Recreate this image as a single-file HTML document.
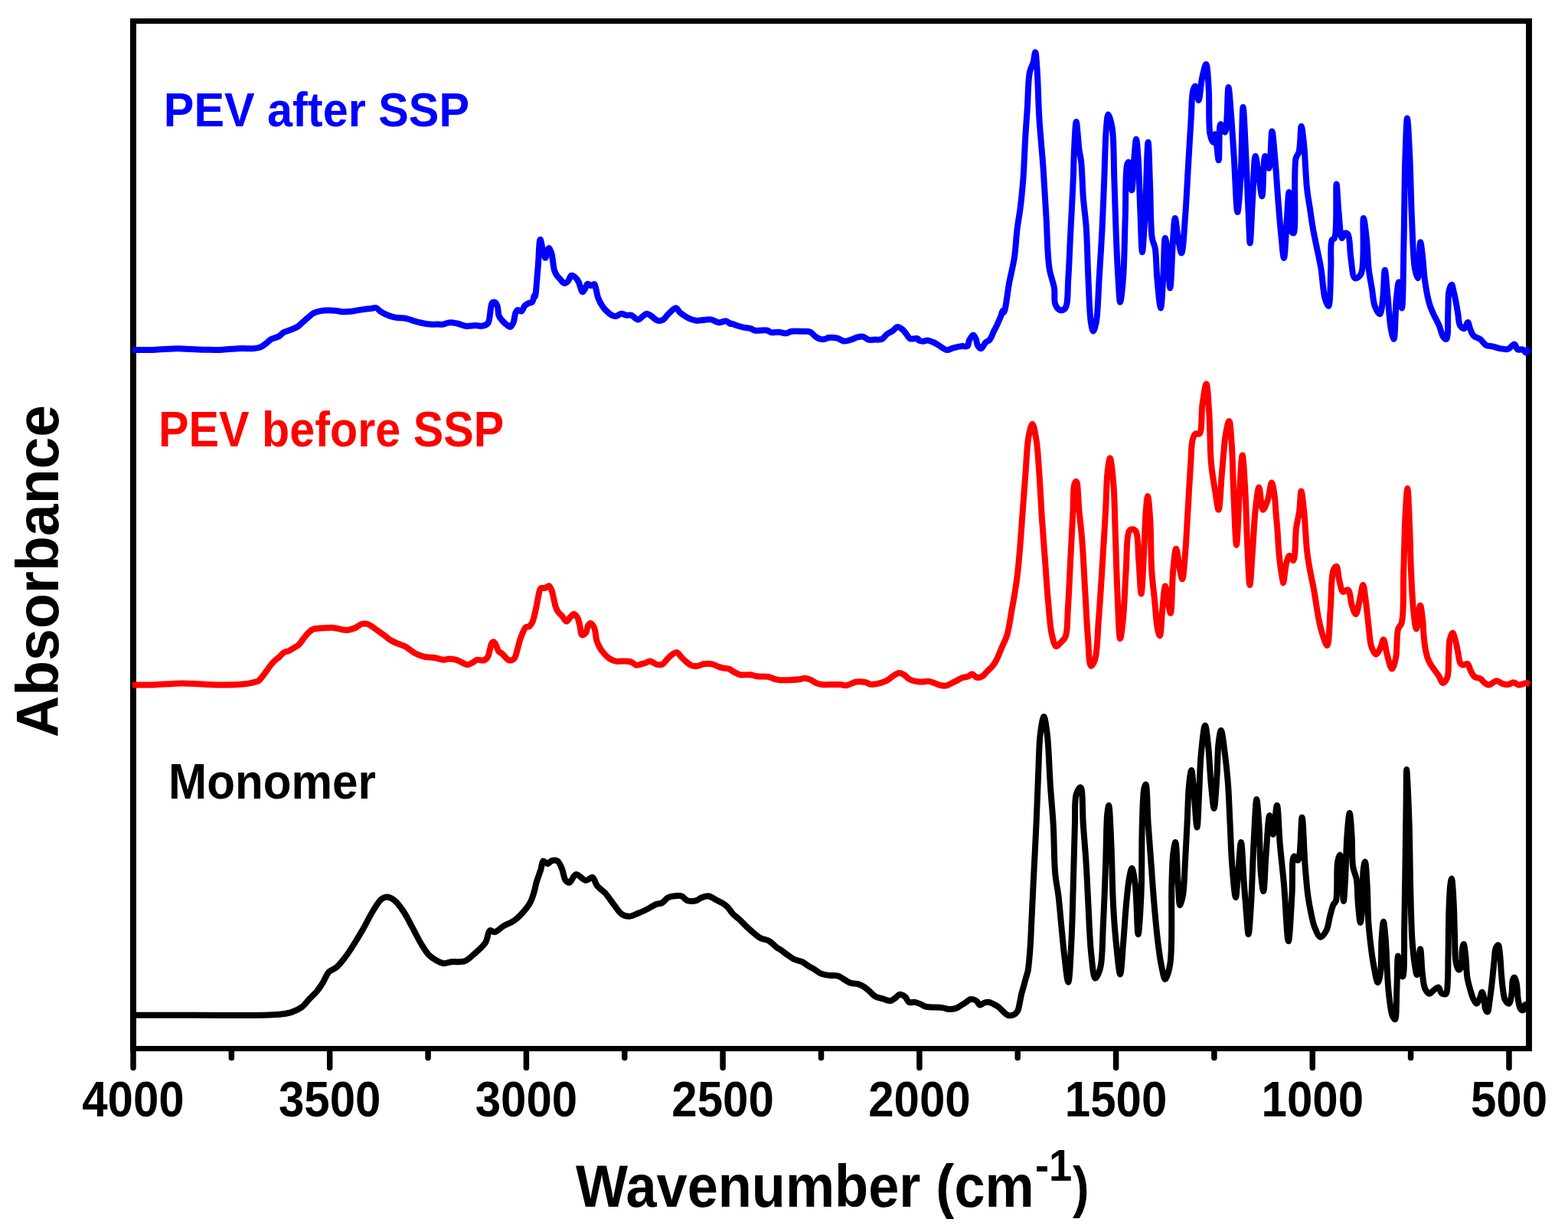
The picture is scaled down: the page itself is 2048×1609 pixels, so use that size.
<!DOCTYPE html>
<html><head><meta charset="utf-8"><style>
html,body{margin:0;padding:0;background:#fff;overflow:hidden;}
svg{display:block;}
text{font-family:"Liberation Sans",Arial,sans-serif;font-weight:bold;}
</style></head><body>
<svg width="2048" height="1609" viewBox="0 0 2048 1609">
<rect width="2048" height="1609" fill="#fff"/>
<g stroke="#000" fill="none" stroke-linecap="butt">
<line x1="174" y1="24" x2="174" y2="1373" stroke-width="8"/>
<line x1="1997" y1="24" x2="1997" y2="1373" stroke-width="8"/>
<line x1="170" y1="27.5" x2="2001" y2="27.5" stroke-width="7"/>
<line x1="170" y1="1369.5" x2="2001" y2="1369.5" stroke-width="7"/>
</g>

<g fill="none" stroke-width="8" stroke-linejoin="round" stroke-linecap="butt">
<path stroke="#0000ff" d="M173.0 456.9 C182.0 456.9 190.6 457.1 200.0 456.9 C210.2 456.6 222.9 455.4 232.0 455.3 C238.9 455.3 243.7 455.8 250.0 456.0 C257.0 456.3 264.9 456.7 272.0 456.8 C278.6 456.9 284.2 457.0 291.0 456.7 C298.8 456.4 308.9 455.1 316.0 454.9 C321.3 454.8 325.7 455.6 330.0 455.3 C333.6 455.0 337.1 454.6 340.0 453.4 C342.7 452.4 344.7 450.7 347.0 449.0 C349.6 447.2 351.8 444.3 354.7 442.7 C357.6 441.1 361.7 440.9 364.4 439.3 C366.7 438.0 367.7 435.8 370.0 434.4 C372.7 432.8 376.6 432.1 379.8 430.7 C383.1 429.3 386.8 427.9 389.5 426.1 C391.8 424.5 393.4 422.6 395.4 420.8 C397.6 418.9 399.9 416.8 402.2 414.9 C404.5 413.0 406.4 410.6 409.0 409.2 C411.8 407.6 415.5 406.7 418.8 406.1 C422.0 405.5 425.3 405.3 428.6 405.3 C431.9 405.3 435.1 405.5 438.4 405.8 C441.6 406.1 444.9 407.0 448.1 407.2 C451.4 407.4 454.6 407.1 457.9 406.8 C461.2 406.5 464.4 405.6 467.7 405.1 C470.9 404.6 474.3 404.1 477.4 403.7 C480.1 403.4 482.8 403.2 485.2 402.9 C487.3 402.6 489.2 401.5 491.1 402.0 C493.2 402.6 494.7 405.3 497.0 406.8 C499.8 408.6 503.4 410.4 506.7 411.7 C509.9 413.0 512.9 413.9 516.5 414.6 C520.8 415.5 526.8 415.2 531.1 416.1 C534.7 416.9 537.3 418.3 540.9 419.3 C545.3 420.5 550.7 422.0 555.5 422.7 C560.1 423.4 567.4 423.7 569.2 423.6 C569.6 423.6 569.6 423.5 570.0 423.5 C571.3 423.4 575.1 424.0 577.8 423.7 C580.9 423.4 584.3 421.4 587.6 421.2 C590.8 421.0 593.9 421.8 597.3 422.5 C601.0 423.3 605.1 425.5 609.0 425.9 C612.9 426.3 617.1 425.1 620.8 425.1 C624.2 425.1 627.6 426.3 630.5 425.7 C633.1 425.1 635.7 424.3 637.4 422.0 C639.9 418.5 639.8 409.3 640.8 404.4 C641.5 401.0 641.4 397.0 642.8 395.6 C643.7 394.7 645.2 394.4 646.2 394.8 C647.5 395.3 648.8 397.4 649.6 399.5 C650.9 402.6 650.3 409.0 651.5 412.2 C652.4 414.5 653.5 415.8 655.0 417.6 C657.0 420.0 660.5 423.3 662.8 424.9 C664.2 425.9 665.5 427.2 666.7 426.9 C668.2 426.5 669.5 423.5 670.6 421.0 C672.0 417.7 672.1 411.1 673.5 408.3 C674.3 406.7 675.2 405.3 676.4 404.9 C677.7 404.5 679.9 406.9 681.3 406.4 C683.0 405.7 683.6 401.3 685.2 399.5 C686.6 398.0 688.4 396.9 690.1 396.1 C691.7 395.3 693.8 395.8 695.0 394.6 C696.7 393.0 697.2 385.9 697.9 385.9 C698.2 385.9 698.4 387.7 698.7 387.7 C699.9 387.5 701.3 363.2 702.5 350.8 C703.7 338.2 704.1 312.8 705.7 312.7 C706.7 312.6 708.2 324.8 709.5 329.2 C710.4 332.3 711.5 336.8 712.3 336.8 C713.2 336.8 713.6 330.2 714.6 327.9 C715.3 326.2 716.3 323.9 717.1 323.9 C718.2 324.0 719.5 327.9 720.3 330.5 C721.3 333.7 721.6 338.1 722.2 341.9 C722.8 345.7 723.1 350.1 724.1 353.3 C724.9 355.8 726.0 357.8 727.3 359.7 C728.6 361.6 730.2 363.0 731.7 364.7 C733.3 366.4 735.0 369.5 736.8 369.8 C738.4 370.1 740.4 368.7 741.9 367.3 C743.7 365.6 744.4 360.2 746.3 359.7 C747.9 359.2 750.5 361.3 752.1 362.8 C753.7 364.3 754.7 366.2 755.9 368.6 C757.6 371.9 759.1 381.0 760.9 381.2 C762.1 381.4 763.6 378.0 764.7 376.2 C765.7 374.5 766.0 371.3 767.3 370.8 C768.6 370.3 770.8 373.0 772.4 373.0 C773.8 373.0 775.3 370.7 776.2 371.1 C777.3 371.5 777.5 374.1 778.1 376.2 C779.1 379.5 779.8 385.0 781.2 388.9 C782.5 392.5 784.4 396.1 786.3 399.0 C787.9 401.5 789.4 403.4 791.4 405.4 C793.6 407.6 796.6 410.5 799.0 411.7 C800.8 412.6 802.3 413.1 804.1 413.0 C806.4 412.8 809.3 409.9 811.7 409.8 C813.9 409.7 816.0 411.4 818.1 411.7 C820.2 412.0 822.2 411.1 824.4 411.7 C827.2 412.5 830.6 417.5 833.3 417.4 C835.6 417.4 837.6 414.3 839.6 413.0 C841.4 411.8 842.9 409.9 844.7 409.8 C846.7 409.7 848.9 411.7 851.1 413.0 C853.6 414.5 856.0 418.1 858.7 418.7 C861.1 419.3 864.1 418.6 866.3 417.4 C868.8 416.0 870.2 412.7 872.7 410.4 C875.6 407.7 880.1 402.0 882.8 402.2 C884.9 402.4 886.1 406.3 887.9 407.9 C889.5 409.4 891.1 410.4 893.0 411.7 C895.2 413.2 897.9 415.0 900.6 416.2 C903.4 417.4 905.9 418.3 909.5 418.7 C914.6 419.2 923.2 416.6 928.5 417.4 C932.5 418.0 935.3 420.9 938.7 421.2 C942.0 421.5 946.1 418.7 948.8 419.3 C950.9 419.8 952.8 423.0 953.9 423.1 C954.4 423.2 954.5 422.6 955.0 422.6 C956.4 422.5 960.0 424.4 962.6 425.2 C965.4 426.1 968.5 427.1 971.5 427.7 C974.4 428.3 977.9 428.2 980.4 429.0 C982.4 429.6 983.2 431.0 985.5 431.5 C989.4 432.4 998.1 430.6 1002.0 431.5 C1004.3 432.0 1005.0 433.6 1007.1 434.1 C1009.8 434.7 1013.8 433.6 1017.2 433.8 C1020.6 434.0 1024.4 435.6 1027.4 435.3 C1029.8 435.0 1031.2 433.3 1033.8 432.8 C1037.7 432.1 1044.6 432.7 1049.0 432.8 C1052.4 432.9 1055.2 432.3 1057.9 433.4 C1060.7 434.5 1063.0 438.2 1065.5 439.8 C1067.6 441.2 1069.7 442.4 1071.9 442.9 C1074.0 443.3 1076.4 443.1 1078.2 442.7 C1079.7 442.4 1080.3 441.3 1082.0 441.0 C1084.8 440.5 1090.0 440.9 1093.5 441.7 C1096.7 442.5 1099.1 445.2 1102.3 445.5 C1105.8 445.8 1110.6 443.9 1113.8 442.9 C1116.2 442.1 1117.9 440.9 1120.1 440.4 C1122.5 439.8 1125.4 439.3 1127.7 439.8 C1130.0 440.3 1131.7 442.9 1134.1 443.6 C1136.7 444.3 1140.0 443.7 1143.0 443.6 C1146.0 443.5 1149.4 444.1 1151.9 442.9 C1154.4 441.7 1155.9 438.4 1158.2 436.6 C1160.5 434.8 1163.5 433.7 1165.9 432.1 C1168.2 430.6 1170.0 427.3 1172.2 427.1 C1174.3 426.9 1176.7 428.8 1178.6 430.2 C1180.5 431.7 1181.9 434.0 1183.6 436.0 C1185.3 438.0 1186.4 441.2 1188.7 442.3 C1191.3 443.5 1197.3 441.3 1198.9 442.3 C1199.7 442.8 1199.3 443.9 1200.0 444.4 C1201.2 445.3 1204.3 445.7 1206.3 445.7 C1208.1 445.7 1209.5 444.3 1211.4 444.4 C1213.7 444.5 1216.5 445.9 1219.0 447.0 C1221.6 448.2 1224.0 449.8 1226.7 451.4 C1229.8 453.2 1233.6 456.8 1236.8 457.1 C1239.5 457.4 1241.5 455.4 1244.4 454.6 C1248.1 453.6 1253.6 452.4 1257.1 452.1 C1259.6 451.9 1262.0 453.2 1263.5 452.1 C1265.2 450.9 1264.8 446.8 1266.0 444.4 C1267.3 441.9 1269.5 437.5 1271.1 437.5 C1272.5 437.5 1274.0 441.1 1274.9 443.2 C1275.9 445.5 1275.6 448.7 1276.8 450.8 C1277.8 452.6 1279.7 455.3 1281.2 455.2 C1283.2 455.1 1285.5 448.9 1287.6 447.0 C1289.1 445.7 1290.8 445.6 1292.0 444.4 C1293.3 443.1 1294.3 441.2 1295.2 439.4 C1296.2 437.4 1296.8 435.0 1297.8 433.0 C1298.7 431.0 1299.9 429.3 1300.9 427.3 C1302.0 425.1 1303.1 422.7 1304.1 420.3 C1305.2 417.8 1306.3 415.2 1307.3 412.7 C1308.2 410.3 1309.0 405.8 1309.8 405.7 C1310.3 405.6 1310.8 407.9 1311.3 407.8 C1313.3 407.3 1315.9 380.9 1318.3 368.5 C1320.4 357.4 1323.1 348.1 1324.8 337.0 C1326.7 324.7 1327.2 309.7 1328.7 298.0 C1329.9 288.4 1331.4 281.5 1332.6 271.9 C1334.1 260.2 1335.4 246.7 1336.5 232.7 C1337.7 216.6 1338.2 196.6 1339.2 180.5 C1340.0 166.5 1340.9 155.0 1341.8 141.4 C1342.8 126.5 1342.7 105.1 1344.9 94.4 C1346.1 88.6 1348.4 85.7 1349.6 81.3 C1350.8 77.0 1351.4 68.3 1352.2 68.3 C1353.3 68.4 1354.1 83.9 1354.8 94.4 C1355.9 110.3 1356.1 134.0 1357.4 154.4 C1358.7 175.7 1361.1 197.9 1362.6 219.7 C1364.1 241.5 1365.3 263.3 1366.6 285.0 C1367.9 306.7 1367.9 333.2 1370.5 350.0 C1372.1 360.8 1375.7 368.0 1377.0 376.3 C1378.1 383.6 1376.3 392.1 1378.3 397.2 C1379.7 400.7 1382.4 404.4 1384.8 405.0 C1386.8 405.5 1389.7 404.7 1391.4 402.4 C1395.4 397.1 1394.3 377.2 1395.3 363.2 C1396.5 347.1 1396.9 330.2 1397.9 311.0 C1399.1 287.5 1400.9 254.3 1401.8 232.7 C1402.4 217.4 1402.4 206.2 1403.1 193.6 C1403.7 181.7 1404.6 159.0 1405.7 159.0 C1406.8 159.0 1408.3 186.3 1409.6 196.0 C1410.5 202.4 1411.5 205.1 1412.2 211.8 C1413.5 223.3 1413.7 243.9 1414.9 258.8 C1416.0 272.5 1417.8 283.3 1418.8 298.0 C1420.1 317.0 1420.4 342.2 1421.4 363.2 C1422.4 383.0 1422.9 408.8 1424.8 420.7 C1425.7 426.1 1426.7 432.4 1427.9 432.4 C1429.1 432.4 1430.7 426.2 1431.8 420.7 C1434.1 408.9 1434.4 383.0 1435.7 363.2 C1437.0 342.2 1438.5 319.7 1439.6 298.0 C1440.7 276.2 1441.4 254.5 1442.3 232.7 C1443.2 211.0 1443.5 182.4 1444.9 167.5 C1445.6 159.6 1446.2 149.6 1447.5 149.5 C1448.8 149.4 1451.4 159.5 1452.7 167.5 C1455.1 182.4 1454.5 210.0 1455.3 232.7 C1456.2 257.6 1456.9 287.5 1457.9 311.0 C1458.7 330.2 1459.5 348.0 1460.5 363.2 C1461.3 375.0 1462.0 394.6 1463.1 394.6 C1464.2 394.6 1466.0 376.0 1467.0 363.2 C1468.6 343.0 1468.8 310.4 1469.7 285.0 C1470.6 260.9 1469.5 221.9 1472.3 214.4 C1472.9 212.8 1473.8 211.6 1474.4 211.8 C1476.5 212.4 1477.2 248.4 1478.3 248.4 C1479.5 248.4 1480.3 218.7 1481.4 206.6 C1482.2 197.3 1483.1 181.8 1484.0 181.8 C1484.9 181.8 1485.9 196.4 1486.6 206.6 C1487.8 223.2 1488.3 250.8 1489.2 271.9 C1490.1 291.7 1490.8 329.3 1491.9 329.3 C1492.9 329.3 1494.2 302.7 1495.3 285.0 C1496.9 258.5 1498.3 185.7 1499.6 185.7 C1500.6 185.7 1501.4 225.4 1502.2 245.8 C1503.1 267.1 1502.6 297.7 1504.8 311.0 C1505.8 317.1 1507.7 318.4 1508.7 324.0 C1510.4 333.4 1510.1 350.0 1511.3 363.0 C1512.5 376.1 1514.7 402.4 1516.0 402.4 C1517.3 402.4 1518.3 377.1 1519.2 363.0 C1520.3 346.9 1520.4 311.1 1521.8 311.0 C1522.5 310.9 1523.6 318.2 1524.4 324.0 C1526.0 335.6 1527.1 376.3 1528.3 376.3 C1529.7 376.3 1530.9 327.8 1532.2 311.0 C1533.0 300.4 1533.7 285.0 1534.8 285.0 C1535.9 285.0 1537.2 303.0 1538.7 311.0 C1540.0 318.0 1541.9 330.7 1543.2 330.6 C1545.2 330.5 1546.6 301.6 1547.9 285.0 C1549.5 265.2 1550.5 241.5 1551.8 219.7 C1553.1 197.9 1554.5 173.0 1555.7 154.4 C1556.6 140.5 1556.3 124.5 1558.3 117.9 C1559.1 115.2 1560.5 112.5 1561.4 112.6 C1563.1 112.9 1564.3 131.0 1565.6 131.0 C1567.2 130.9 1568.1 110.6 1570.0 102.2 C1571.5 95.4 1573.9 83.9 1575.3 84.0 C1577.1 84.2 1577.9 103.2 1578.7 115.3 C1579.9 132.1 1578.2 163.6 1580.5 175.3 C1581.5 180.3 1583.3 185.8 1584.4 185.7 C1585.5 185.6 1586.1 175.3 1587.0 175.3 C1588.6 175.4 1590.5 209.2 1591.7 209.2 C1593.1 209.1 1591.5 162.8 1594.3 162.2 C1595.7 161.9 1598.5 173.0 1600.0 172.7 C1603.4 172.0 1603.0 114.0 1604.5 114.0 C1605.6 114.0 1606.8 136.0 1607.9 149.2 C1609.3 166.0 1610.5 186.5 1611.8 206.6 C1613.3 228.9 1614.7 277.0 1616.3 277.0 C1617.6 277.0 1619.3 250.2 1620.4 232.7 C1622.0 207.5 1622.3 140.0 1623.6 140.0 C1624.7 140.0 1626.3 183.5 1627.5 206.6 C1628.8 231.7 1629.9 264.5 1630.9 285.0 C1631.6 298.2 1632.0 317.6 1632.7 317.6 C1633.6 317.6 1634.9 278.1 1636.1 258.8 C1637.2 240.2 1637.9 204.1 1639.7 204.0 C1641.0 203.9 1642.9 223.6 1644.4 232.7 C1645.8 240.9 1647.3 256.3 1648.4 256.2 C1650.1 256.1 1649.9 204.3 1652.3 204.0 C1653.7 203.8 1656.1 219.9 1657.5 219.7 C1659.9 219.4 1660.0 171.4 1661.4 171.4 C1662.6 171.4 1664.1 193.7 1665.3 206.6 C1666.8 222.3 1667.8 241.9 1669.2 258.8 C1670.5 274.9 1671.7 291.7 1673.2 305.8 C1674.4 317.3 1675.8 337.0 1677.0 337.0 C1678.5 337.0 1679.7 300.5 1680.9 285.0 C1681.8 272.5 1682.7 251.0 1683.5 251.0 C1684.5 251.0 1683.2 293.5 1686.1 300.6 C1687.0 302.9 1688.5 304.8 1689.5 304.5 C1693.7 303.0 1689.0 220.8 1692.6 206.6 C1693.7 202.4 1695.5 202.4 1696.5 198.8 C1698.6 191.6 1698.5 164.9 1699.7 164.9 C1700.7 164.9 1702.1 178.8 1703.1 188.3 C1704.7 203.2 1705.3 230.4 1707.0 245.8 C1708.1 256.2 1709.6 263.2 1710.9 271.9 C1712.2 280.6 1713.3 289.3 1714.8 298.0 C1716.3 306.7 1718.3 315.3 1720.0 324.0 C1721.8 332.7 1723.7 340.6 1725.3 350.2 C1727.3 361.9 1728.0 380.5 1730.5 389.3 C1731.8 394.0 1734.0 400.0 1735.2 399.8 C1737.7 399.3 1737.6 365.5 1738.3 350.2 C1738.9 337.1 1737.0 318.6 1739.6 313.6 C1740.5 311.9 1742.0 312.8 1743.0 311.0 C1746.9 303.5 1744.4 240.6 1745.6 240.6 C1746.5 240.6 1747.4 267.4 1748.7 279.7 C1749.8 290.7 1750.5 310.5 1752.7 311.0 C1753.8 311.2 1755.0 305.1 1756.6 304.5 C1757.8 304.1 1759.4 304.5 1760.5 305.8 C1763.5 309.4 1762.8 327.2 1764.4 337.1 C1765.9 346.2 1766.2 361.8 1769.6 363.2 C1771.6 364.1 1775.5 361.6 1777.5 358.0 C1783.2 348.0 1779.1 285.1 1780.9 285.0 C1782.0 284.9 1783.7 301.3 1784.8 311.0 C1786.2 323.3 1786.5 340.9 1787.9 352.8 C1789.0 361.8 1790.5 368.5 1791.8 376.3 C1793.1 384.1 1793.4 393.7 1795.7 399.8 C1797.4 404.2 1800.6 410.5 1802.3 410.2 C1804.5 409.8 1805.2 397.3 1806.2 389.3 C1807.5 378.9 1807.7 352.8 1808.8 352.8 C1809.9 352.8 1811.4 376.9 1812.7 389.3 C1814.0 402.1 1814.8 418.7 1816.6 428.5 C1817.7 434.5 1819.4 442.9 1820.5 442.8 C1822.5 442.6 1822.4 403.0 1823.9 389.3 C1824.8 380.7 1826.0 368.5 1827.0 368.5 C1828.3 368.5 1830.0 402.4 1831.0 402.4 C1832.7 402.3 1832.9 342.5 1833.6 311.0 C1834.4 277.4 1834.4 235.4 1835.4 206.6 C1836.1 186.2 1837.0 154.4 1838.0 154.4 C1839.0 154.4 1840.5 187.4 1841.4 206.6 C1842.6 230.1 1842.8 260.1 1844.0 285.0 C1845.1 307.7 1845.5 336.9 1847.9 350.2 C1849.0 356.3 1850.8 363.3 1851.9 363.2 C1853.9 363.0 1853.8 316.3 1855.2 316.2 C1856.2 316.2 1857.6 331.3 1858.5 338.9 C1859.4 346.6 1859.6 354.9 1860.5 362.1 C1861.3 368.4 1862.1 374.0 1863.2 379.9 C1864.3 385.9 1865.6 392.2 1867.3 397.7 C1868.8 402.6 1870.8 406.8 1872.8 411.3 C1874.9 415.9 1877.6 420.3 1879.6 425.0 C1881.7 429.8 1882.9 437.1 1885.1 440.0 C1886.3 441.6 1888.1 443.3 1889.2 442.8 C1892.1 441.4 1890.7 418.3 1891.3 407.2 C1891.8 397.5 1891.1 386.3 1892.6 379.9 C1893.4 376.3 1895.1 371.6 1896.1 371.7 C1897.2 371.8 1897.9 377.9 1898.8 381.3 C1899.8 385.1 1900.6 389.2 1901.5 393.6 C1902.5 398.7 1903.4 404.7 1904.3 410.0 C1905.2 415.1 1905.0 421.8 1907.0 425.0 C1908.3 427.2 1910.9 429.4 1912.5 429.1 C1914.4 428.7 1915.9 420.8 1917.2 420.9 C1918.4 421.0 1918.8 426.3 1920.0 429.1 C1921.3 432.2 1922.5 436.4 1924.8 438.7 C1926.9 440.8 1930.4 440.9 1933.0 442.8 C1935.9 444.9 1938.2 449.4 1941.2 451.0 C1943.7 452.3 1946.6 451.8 1949.4 452.4 C1952.5 453.1 1955.7 454.5 1959.0 455.1 C1962.5 455.7 1966.7 456.8 1969.9 455.8 C1973.0 454.9 1976.0 449.2 1978.1 449.6 C1980.0 450.0 1980.3 455.4 1982.2 456.5 C1984.0 457.5 1987.1 455.7 1989.0 456.5 C1990.7 457.2 1991.7 460.5 1993.1 460.5 C1994.7 460.4 1996.4 456.8 1998.0 455.0"/>
<path stroke="#ff0000" d="M173.0 894.5 C181.8 894.5 189.7 894.7 199.3 894.5 C211.0 894.2 224.6 892.6 238.4 892.5 C253.8 892.4 272.5 894.5 287.2 894.5 C299.2 894.5 311.6 894.3 320.0 893.3 C325.2 892.7 329.4 891.7 332.7 890.8 C334.8 890.2 336.1 890.1 337.8 888.9 C340.3 887.1 343.0 883.0 345.4 880.0 C347.7 877.1 349.5 873.9 351.7 871.1 C353.8 868.4 355.9 865.7 358.1 863.5 C360.1 861.5 362.3 860.2 364.4 858.4 C366.6 856.5 368.5 853.5 370.8 852.1 C372.8 850.9 375.0 851.0 377.1 850.1 C379.3 849.1 381.4 847.6 383.5 846.3 C385.6 845.0 387.8 844.2 389.8 842.5 C392.1 840.4 394.1 837.0 396.2 834.3 C398.3 831.7 400.3 828.9 402.5 826.7 C404.5 824.8 406.2 822.9 408.9 821.8 C412.3 820.4 417.4 820.7 421.6 820.3 C425.8 820.0 430.1 819.4 434.3 819.7 C438.6 820.0 443.5 821.7 447.0 822.2 C449.5 822.6 451.0 823.1 453.3 822.9 C456.3 822.7 460.3 821.6 463.5 820.3 C466.6 819.0 469.3 815.8 472.3 815.0 C474.9 814.3 477.3 814.2 480.0 815.0 C483.6 816.0 487.9 819.8 491.4 822.2 C494.6 824.3 497.3 826.4 500.3 828.6 C503.6 831.0 506.7 834.0 510.4 836.2 C514.3 838.5 519.6 840.4 523.1 841.9 C525.6 842.9 527.1 843.1 529.5 844.4 C533.1 846.3 537.8 851.0 542.2 853.3 C546.3 855.4 550.6 856.9 554.9 857.8 C559.1 858.7 563.4 858.3 567.6 859.0 C571.8 859.6 576.6 861.7 580.0 861.7 C582.5 861.7 584.0 860.5 586.3 860.4 C589.0 860.3 592.5 861.0 595.2 861.7 C597.6 862.3 599.3 863.3 601.6 864.3 C604.3 865.4 607.6 868.1 610.5 868.1 C613.1 868.1 615.9 866.1 618.1 864.9 C620.0 863.9 621.2 862.2 623.2 861.7 C625.7 861.1 629.7 863.2 632.1 862.4 C634.2 861.7 635.9 859.9 637.1 857.9 C638.6 855.6 638.8 852.0 639.7 849.0 C640.5 846.0 641.0 841.9 642.2 840.1 C642.9 839.1 643.9 838.1 644.7 838.2 C645.8 838.4 646.9 840.9 647.9 842.7 C649.1 844.8 649.6 848.3 651.1 850.3 C652.4 852.0 654.3 852.5 656.2 854.1 C658.8 856.3 662.2 861.7 665.1 862.4 C667.2 862.9 669.8 861.9 671.4 860.4 C673.5 858.4 674.0 854.0 675.2 850.3 C676.6 846.0 677.6 840.6 679.0 836.3 C680.2 832.6 681.4 829.2 682.8 826.2 C684.0 823.6 684.9 820.5 686.6 819.2 C688.0 818.1 690.3 818.9 691.7 817.9 C693.3 816.7 694.5 814.4 695.5 812.2 C696.7 809.6 697.3 806.5 698.1 803.3 C699.0 799.7 699.8 795.8 700.6 791.9 C701.5 787.8 702.1 783.2 703.1 779.2 C704.0 775.4 704.3 770.1 706.3 768.4 C707.7 767.2 710.2 768.3 712.0 767.8 C713.8 767.3 715.7 764.8 717.1 765.2 C718.5 765.6 719.4 768.1 720.3 770.3 C721.7 773.5 722.5 779.0 723.5 783.0 C724.4 786.6 724.9 790.3 726.0 793.2 C726.9 795.6 727.8 797.6 729.2 799.5 C730.6 801.4 732.5 802.7 734.2 804.6 C736.1 806.7 738.1 811.6 740.0 811.6 C741.7 811.6 743.3 807.6 745.0 805.9 C746.5 804.4 748.0 802.1 749.5 802.1 C751.0 802.1 752.7 804.1 753.9 805.9 C755.5 808.3 756.1 812.4 757.1 816.0 C758.2 820.1 758.3 828.5 760.3 829.3 C761.6 829.8 764.2 827.8 765.4 826.2 C766.9 824.2 766.7 819.4 767.9 817.3 C768.8 815.8 769.9 814.1 771.1 814.1 C772.6 814.1 774.8 817.2 776.1 819.8 C778.0 823.7 777.9 831.7 779.3 836.3 C780.4 839.8 781.5 842.3 783.1 845.2 C784.8 848.3 787.2 851.6 789.5 854.1 C791.5 856.3 793.4 858.2 795.8 859.8 C798.4 861.5 801.8 863.0 804.7 863.6 C807.3 864.1 809.5 863.5 812.3 863.6 C815.7 863.7 820.5 863.3 823.8 864.3 C826.7 865.2 828.8 868.3 831.4 868.7 C833.9 869.0 836.9 867.3 839.0 866.8 C840.4 866.5 841.3 866.4 842.7 866.0 C844.5 865.4 846.7 863.4 849.0 863.5 C851.7 863.6 855.0 867.3 857.9 867.9 C860.5 868.4 863.3 868.4 865.5 867.3 C868.0 866.1 869.7 862.5 871.9 860.3 C874.0 858.3 876.0 856.0 878.2 854.6 C880.1 853.4 882.2 851.8 884.0 852.1 C886.1 852.5 887.8 855.9 889.7 857.8 C891.7 859.8 893.7 862.2 896.0 864.1 C898.3 866.0 900.9 868.3 903.6 869.2 C906.0 870.0 908.7 870.1 911.2 869.8 C913.8 869.5 916.0 867.8 918.9 867.3 C922.3 866.8 926.9 866.6 930.3 867.3 C933.2 867.9 935.5 869.6 937.9 870.5 C940.1 871.3 942.1 871.9 944.3 872.4 C946.7 872.9 949.4 872.7 951.9 873.6 C954.5 874.5 956.9 876.8 959.5 878.1 C962.0 879.4 964.2 880.7 967.1 881.3 C970.7 882.0 976.0 880.9 979.8 881.3 C983.0 881.6 985.3 882.8 988.7 883.2 C993.1 883.7 1000.0 883.0 1003.9 883.8 C1006.5 884.4 1008.0 885.6 1010.3 886.3 C1013.0 887.1 1016.2 887.9 1019.2 888.2 C1022.1 888.5 1024.6 888.3 1028.0 888.2 C1032.9 888.0 1041.7 887.7 1045.8 887.0 C1048.0 886.6 1049.0 885.7 1050.9 885.7 C1053.2 885.7 1056.0 886.6 1058.5 887.6 C1061.1 888.7 1063.5 891.0 1066.1 892.1 C1068.6 893.1 1070.8 893.6 1073.8 894.0 C1078.0 894.5 1084.6 894.0 1089.0 894.0 C1092.3 894.0 1095.0 893.9 1097.8 894.1 C1100.4 894.3 1102.6 895.6 1105.4 895.3 C1109.1 894.9 1113.8 891.2 1118.1 890.5 C1122.3 889.8 1127.3 890.3 1130.8 891.1 C1133.4 891.7 1134.7 893.4 1137.2 893.7 C1140.4 894.1 1145.0 893.3 1148.6 892.4 C1152.1 891.6 1155.8 890.3 1158.8 888.6 C1161.6 887.0 1163.8 884.5 1166.4 882.9 C1168.9 881.4 1171.6 879.3 1174.1 879.1 C1176.3 878.9 1178.3 879.9 1180.4 881.0 C1183.0 882.4 1185.0 885.7 1188.1 887.3 C1191.6 889.1 1196.5 890.1 1200.8 890.5 C1205.0 890.9 1210.0 889.5 1213.5 889.9 C1216.0 890.2 1217.7 891.1 1219.8 891.8 C1221.9 892.5 1223.9 893.7 1226.2 894.3 C1228.9 895.0 1232.1 896.0 1235.1 895.6 C1238.4 895.1 1241.7 892.8 1245.3 891.1 C1249.3 889.2 1254.4 886.0 1258.0 884.8 C1260.4 884.0 1262.4 884.3 1264.3 883.5 C1266.2 882.8 1267.6 880.3 1269.4 880.3 C1271.4 880.4 1273.5 884.4 1275.8 884.8 C1278.1 885.2 1281.1 884.2 1283.4 882.9 C1285.8 881.5 1287.6 878.6 1289.7 876.5 C1291.8 874.4 1294.2 872.5 1296.1 870.2 C1298.0 867.9 1299.5 865.7 1301.2 862.5 C1303.8 857.6 1306.9 849.2 1309.4 843.4 C1311.5 838.5 1313.5 835.5 1315.2 829.8 C1317.8 821.1 1319.6 807.5 1321.7 795.8 C1323.9 783.5 1326.3 770.4 1328.0 757.6 C1329.7 744.9 1330.7 733.1 1331.9 719.4 C1333.3 703.6 1334.4 685.4 1335.7 668.4 C1337.0 651.4 1338.2 633.9 1339.5 617.4 C1340.7 601.7 1341.2 583.2 1343.3 571.5 C1344.7 564.1 1346.8 553.7 1348.4 553.7 C1350.2 553.7 1352.1 566.0 1353.5 574.1 C1355.5 585.8 1356.1 601.6 1357.3 617.4 C1358.7 636.6 1359.8 661.1 1361.2 681.1 C1362.4 699.0 1363.7 715.1 1365.0 732.1 C1366.3 749.1 1367.3 766.5 1368.8 783.0 C1370.3 798.7 1371.3 817.8 1373.9 828.9 C1375.4 835.5 1377.1 843.6 1379.5 844.2 C1381.2 844.6 1383.5 841.1 1385.4 839.1 C1387.6 836.9 1390.1 835.3 1391.7 831.5 C1394.7 824.2 1393.9 809.4 1394.8 795.8 C1396.1 777.6 1397.0 753.3 1398.1 732.1 C1399.2 710.9 1400.5 686.6 1401.4 668.4 C1402.1 654.8 1401.3 638.4 1403.2 632.7 C1403.9 630.6 1405.0 628.7 1405.8 628.9 C1408.0 629.5 1408.3 655.3 1409.6 668.4 C1410.9 681.2 1412.3 692.2 1413.4 706.6 C1414.9 725.1 1415.9 749.1 1417.2 770.3 C1418.5 791.5 1419.5 815.8 1421.0 834.0 C1422.2 847.6 1422.2 869.0 1424.9 869.7 C1426.2 870.0 1428.6 866.0 1430.0 862.1 C1433.4 852.5 1433.4 828.0 1435.0 808.6 C1436.9 785.4 1438.6 756.4 1440.2 732.1 C1441.6 709.9 1442.9 688.5 1444.0 668.4 C1445.0 650.5 1445.1 630.3 1446.5 617.4 C1447.4 609.5 1448.7 598.3 1449.8 598.3 C1451.2 598.3 1453.1 617.7 1454.2 630.2 C1455.8 647.8 1455.9 671.7 1456.7 693.9 C1457.6 718.2 1458.2 746.0 1459.3 770.3 C1460.3 792.5 1461.4 833.9 1463.1 834.0 C1464.2 834.0 1465.8 819.0 1466.9 808.6 C1468.6 792.2 1469.3 764.9 1470.7 744.8 C1471.9 726.9 1471.1 700.0 1474.6 693.9 C1475.7 692.1 1477.0 691.4 1478.4 691.3 C1479.9 691.2 1482.1 691.9 1483.5 693.9 C1487.0 699.1 1486.1 719.0 1487.3 732.1 C1488.5 746.1 1489.5 775.4 1490.6 775.4 C1491.8 775.4 1493.2 737.6 1494.2 719.4 C1495.2 702.0 1495.5 681.6 1496.6 668.4 C1497.3 660.1 1498.3 648.0 1499.1 648.0 C1500.2 648.0 1501.6 668.3 1502.4 681.1 C1503.5 698.9 1503.0 726.3 1504.2 744.8 C1505.1 759.2 1506.7 770.3 1508.0 783.0 C1509.3 795.8 1510.1 813.1 1511.9 821.3 C1512.8 825.4 1514.0 830.3 1514.9 830.2 C1516.5 830.0 1517.0 806.9 1518.2 795.8 C1519.4 785.3 1520.6 765.2 1522.0 765.2 C1523.2 765.2 1524.6 781.7 1525.9 788.2 C1526.9 793.1 1528.1 801.0 1528.9 800.9 C1530.7 800.7 1530.7 760.3 1532.2 744.8 C1533.3 733.8 1534.6 716.8 1536.1 716.8 C1537.6 716.8 1539.6 737.5 1541.2 744.8 C1542.2 749.5 1543.3 756.4 1544.2 756.3 C1545.8 756.2 1547.2 732.7 1548.3 719.4 C1549.6 703.8 1550.3 686.3 1551.4 668.4 C1552.6 648.3 1554.0 622.1 1555.2 604.7 C1556.1 592.6 1555.8 580.8 1557.7 574.1 C1558.7 570.6 1559.7 567.6 1561.5 566.5 C1562.9 565.6 1565.2 567.7 1566.6 566.5 C1570.4 563.1 1568.8 539.8 1570.5 528.2 C1571.9 518.5 1574.2 501.4 1575.6 501.5 C1577.3 501.6 1578.4 526.3 1579.4 541.0 C1580.7 559.7 1580.3 586.6 1581.9 604.7 C1583.1 618.3 1585.2 629.5 1587.0 640.4 C1588.5 649.6 1590.3 665.9 1591.6 665.8 C1593.4 665.7 1594.5 633.7 1596.0 617.4 C1597.6 600.6 1598.8 578.8 1601.0 566.5 C1602.3 559.4 1604.2 549.8 1605.4 549.9 C1607.0 550.0 1607.8 567.5 1608.7 579.2 C1610.0 596.3 1610.2 621.3 1611.2 642.9 C1612.3 665.4 1613.7 711.7 1615.0 711.7 C1616.3 711.7 1617.5 663.8 1618.9 642.9 C1620.1 625.3 1621.4 594.5 1622.7 594.5 C1624.0 594.5 1625.5 625.6 1626.5 642.9 C1627.7 662.7 1628.0 685.9 1629.0 706.6 C1630.0 726.2 1631.1 764.0 1632.4 764.0 C1633.5 764.0 1634.8 735.1 1636.0 719.4 C1637.3 701.8 1638.2 678.6 1640.0 663.3 C1641.2 652.7 1642.9 636.5 1644.4 636.5 C1646.0 636.5 1647.0 665.4 1649.5 665.8 C1651.2 666.0 1654.0 658.1 1655.8 653.1 C1658.1 646.7 1659.4 630.2 1661.0 630.2 C1662.4 630.2 1663.9 641.8 1664.8 648.0 C1665.8 654.5 1665.8 661.2 1666.4 668.4 C1667.1 676.4 1668.0 685.4 1668.6 693.9 C1669.2 702.4 1669.5 711.4 1670.2 719.4 C1670.8 726.6 1671.5 732.9 1672.4 739.7 C1673.3 746.5 1675.2 757.4 1675.8 760.1 C1676.0 760.8 1676.0 761.4 1676.2 761.4 C1676.9 761.3 1678.5 741.1 1680.4 734.6 C1681.5 730.7 1682.6 725.9 1684.2 725.7 C1685.6 725.5 1687.9 732.5 1689.3 732.1 C1692.4 731.2 1691.5 700.5 1693.1 688.8 C1694.2 680.7 1696.0 675.7 1697.0 668.4 C1698.2 660.1 1698.5 641.6 1699.5 641.6 C1700.6 641.6 1702.2 658.0 1703.3 668.4 C1704.8 682.7 1705.5 705.4 1707.1 719.4 C1708.2 729.4 1709.5 736.3 1711.0 744.8 C1712.5 753.3 1714.4 760.9 1716.1 770.3 C1718.2 781.8 1720.2 797.9 1722.4 808.6 C1724.0 816.5 1725.5 822.9 1727.5 829.0 C1729.2 834.2 1731.9 843.2 1733.4 843.0 C1736.1 842.6 1736.4 811.8 1737.7 795.8 C1739.1 779.1 1738.4 752.8 1741.5 744.8 C1742.6 741.9 1744.5 739.4 1745.6 739.7 C1747.5 740.2 1747.7 751.9 1749.2 757.6 C1750.6 762.9 1751.7 771.7 1754.3 772.9 C1756.0 773.7 1759.0 769.4 1760.7 770.3 C1763.7 771.8 1763.8 784.9 1765.8 790.7 C1767.3 795.2 1769.4 802.3 1770.9 802.2 C1772.8 802.0 1774.4 789.4 1776.0 783.0 C1777.6 776.7 1779.0 764.0 1780.3 764.0 C1781.6 764.0 1782.6 775.8 1783.6 783.0 C1785.0 792.5 1786.1 805.6 1787.4 816.2 C1788.6 825.9 1788.9 837.3 1791.2 844.2 C1792.7 848.6 1795.1 854.3 1797.1 854.4 C1798.9 854.5 1801.1 849.7 1802.7 846.8 C1804.5 843.5 1805.7 835.2 1807.0 835.3 C1808.7 835.4 1809.8 848.1 1811.6 854.4 C1813.4 860.8 1816.0 873.5 1818.0 873.5 C1819.8 873.5 1821.8 865.4 1823.1 859.5 C1825.2 850.0 1823.8 829.0 1826.2 821.3 C1827.4 817.6 1829.5 817.7 1830.7 813.6 C1834.0 802.3 1832.5 768.3 1833.3 744.8 C1834.2 720.0 1834.6 688.1 1835.8 668.4 C1836.5 655.9 1837.6 637.8 1838.4 637.8 C1839.3 637.8 1840.2 665.3 1840.9 681.1 C1841.8 700.3 1842.1 724.8 1843.0 744.8 C1843.8 762.7 1844.5 781.7 1846.0 795.8 C1847.1 805.8 1848.5 821.3 1849.9 821.3 C1851.5 821.3 1853.5 790.7 1855.0 790.7 C1856.2 790.7 1857.5 804.3 1858.3 811.0 C1859.0 817.5 1859.0 824.0 1859.6 830.5 C1860.3 837.0 1860.9 844.3 1862.2 850.1 C1863.2 854.9 1864.3 859.1 1866.1 863.1 C1867.8 866.9 1870.4 870.3 1872.6 873.6 C1874.7 876.8 1877.2 879.6 1879.2 882.7 C1881.1 885.7 1882.5 891.7 1884.4 891.9 C1886.2 892.1 1888.8 888.6 1890.2 885.3 C1892.7 879.3 1891.6 865.4 1892.2 856.6 C1892.7 849.1 1892.2 841.2 1893.5 835.7 C1894.4 832.0 1896.2 826.6 1897.4 826.6 C1898.4 826.6 1899.1 830.4 1900.0 833.1 C1901.4 837.4 1902.8 844.5 1904.0 850.1 C1905.2 855.4 1905.4 862.9 1907.2 865.8 C1908.1 867.3 1909.1 868.1 1910.5 868.4 C1912.2 868.8 1915.3 866.2 1917.0 867.1 C1919.0 868.2 1919.4 873.3 1920.9 876.2 C1922.4 879.0 1923.8 882.3 1926.1 884.0 C1928.2 885.6 1931.8 885.2 1934.0 886.6 C1936.1 887.9 1937.3 890.6 1939.2 891.9 C1940.8 893.1 1942.4 894.5 1944.4 894.5 C1947.3 894.5 1951.7 889.2 1954.9 889.2 C1957.7 889.2 1960.0 892.4 1962.7 893.2 C1965.2 893.9 1968.1 894.2 1970.5 893.8 C1972.8 893.4 1974.8 891.1 1977.0 891.2 C1979.2 891.3 1981.1 894.2 1983.6 894.5 C1986.6 894.8 1991.4 891.6 1994.0 891.9 C1995.7 892.1 1996.7 893.2 1998.0 893.8"/>
<path stroke="#000000" d="M173.0 1325.8 C198.0 1325.8 221.3 1325.8 248.0 1325.8 C278.4 1325.8 325.7 1326.3 345.8 1325.8 C354.8 1325.6 359.2 1325.5 365.3 1324.8 C370.8 1324.1 376.1 1323.6 381.0 1321.9 C385.8 1320.3 390.7 1318.0 394.6 1315.0 C398.4 1312.1 401.1 1307.8 404.4 1304.3 C407.6 1300.9 411.1 1298.0 414.0 1294.5 C417.0 1290.9 419.4 1286.9 422.0 1282.8 C424.7 1278.5 426.5 1272.4 429.8 1269.1 C432.6 1266.3 436.3 1266.0 439.5 1263.3 C443.5 1259.9 447.5 1254.6 451.3 1249.6 C455.4 1244.2 459.2 1238.1 463.0 1232.0 C467.0 1225.7 470.9 1219.2 474.7 1212.5 C478.7 1205.5 482.3 1197.6 486.4 1191.0 C490.1 1185.0 494.1 1177.5 498.1 1174.4 C500.7 1172.4 503.3 1171.3 506.0 1171.5 C509.1 1171.7 512.6 1173.9 515.7 1176.4 C519.8 1179.7 523.9 1185.7 527.4 1191.0 C531.1 1196.5 533.7 1202.2 537.2 1208.6 C541.4 1216.3 546.5 1226.9 550.9 1234.0 C554.2 1239.4 557.1 1244.2 560.6 1247.7 C563.5 1250.6 566.6 1252.5 569.8 1254.3 C572.9 1256.0 576.2 1257.9 579.5 1258.2 C582.7 1258.5 585.5 1256.7 589.3 1256.2 C594.3 1255.6 601.9 1257.1 606.9 1255.3 C611.5 1253.6 614.5 1250.0 618.6 1246.5 C623.6 1242.2 630.6 1236.5 634.2 1230.9 C637.3 1226.0 637.2 1216.5 640.0 1215.2 C641.7 1214.4 643.8 1217.5 646.0 1217.2 C649.4 1216.8 653.6 1211.8 657.7 1209.4 C662.0 1206.9 667.3 1205.2 671.3 1202.5 C675.0 1200.0 677.8 1197.3 681.0 1193.8 C685.0 1189.5 690.0 1183.4 692.8 1178.1 C695.2 1173.6 696.4 1168.9 697.7 1164.5 C698.9 1160.5 699.4 1157.0 700.6 1152.7 C702.1 1147.4 704.9 1140.4 706.5 1135.2 C707.7 1131.2 707.6 1125.1 709.4 1124.4 C710.8 1123.9 713.5 1128.4 715.3 1128.3 C717.0 1128.2 718.2 1125.1 720.2 1124.4 C722.4 1123.6 725.9 1123.2 728.0 1124.4 C730.6 1125.9 732.1 1130.4 733.8 1134.2 C735.8 1138.7 736.4 1146.8 738.7 1149.8 C740.1 1151.5 741.9 1153.0 743.6 1152.7 C746.3 1152.2 748.9 1142.6 752.4 1142.0 C756.0 1141.4 761.1 1149.5 765.0 1149.8 C768.2 1150.0 771.5 1145.1 773.9 1145.9 C776.6 1146.8 777.1 1153.3 779.7 1156.6 C782.5 1160.2 787.0 1162.6 790.5 1166.4 C794.5 1170.8 798.4 1177.2 802.2 1182.0 C805.6 1186.3 808.3 1191.4 812.0 1193.8 C815.0 1195.8 818.3 1196.8 821.7 1196.7 C825.4 1196.6 829.5 1194.3 833.4 1192.8 C837.3 1191.3 841.2 1189.4 845.1 1187.5 C849.1 1185.5 853.3 1182.4 856.9 1181.0 C859.7 1179.9 862.2 1180.4 864.7 1179.1 C867.5 1177.7 869.7 1173.8 872.5 1172.3 C875.0 1171.0 877.5 1170.6 880.3 1170.3 C883.3 1169.9 887.1 1169.3 890.0 1170.3 C892.9 1171.3 894.8 1175.2 897.9 1176.2 C901.3 1177.3 906.5 1177.1 909.6 1176.2 C912.0 1175.5 913.2 1173.6 915.5 1172.7 C918.3 1171.6 922.0 1169.9 925.2 1170.3 C928.5 1170.7 931.7 1173.6 935.0 1175.2 C938.3 1176.8 942.0 1178.3 944.8 1180.1 C947.1 1181.6 948.7 1183.0 950.6 1185.0 C953.0 1187.5 955.1 1191.4 957.6 1194.0 C960.0 1196.4 962.5 1197.9 965.2 1200.3 C968.4 1203.2 972.0 1207.3 975.4 1210.5 C978.7 1213.6 982.3 1216.8 985.5 1219.4 C988.2 1221.6 990.2 1223.6 993.2 1225.1 C996.5 1226.8 1001.2 1227.0 1004.6 1228.9 C1008.0 1230.8 1010.6 1234.3 1013.5 1236.5 C1016.1 1238.5 1018.6 1239.8 1021.1 1241.6 C1023.7 1243.4 1026.0 1245.4 1028.7 1247.3 C1031.5 1249.3 1034.4 1251.5 1037.6 1253.0 C1040.8 1254.5 1044.7 1254.7 1047.8 1256.2 C1050.6 1257.5 1052.7 1259.6 1055.4 1261.2 C1058.2 1262.9 1061.5 1264.5 1064.3 1266.3 C1067.0 1268.0 1069.0 1270.2 1071.9 1271.4 C1075.2 1272.8 1079.5 1273.4 1083.3 1273.9 C1087.1 1274.4 1091.4 1273.6 1094.7 1274.6 C1097.6 1275.5 1099.8 1277.5 1102.3 1279.0 C1104.9 1280.5 1107.1 1282.4 1110.0 1283.5 C1113.3 1284.7 1118.1 1284.3 1121.4 1285.4 C1124.3 1286.3 1126.6 1287.6 1129.0 1289.2 C1131.6 1290.9 1134.2 1293.4 1136.6 1295.5 C1138.8 1297.4 1140.4 1299.7 1143.0 1301.2 C1145.8 1302.8 1149.7 1303.4 1153.1 1304.4 C1156.5 1305.4 1160.4 1307.4 1163.3 1307.0 C1165.7 1306.6 1167.6 1304.5 1169.6 1303.1 C1171.6 1301.7 1173.2 1298.9 1175.3 1298.7 C1177.4 1298.5 1180.3 1300.3 1182.3 1301.9 C1184.4 1303.6 1185.2 1307.8 1187.4 1308.9 C1189.5 1310.0 1192.5 1308.5 1195.0 1308.9 C1197.6 1309.3 1200.2 1310.4 1202.6 1311.4 C1204.9 1312.3 1206.1 1313.8 1209.0 1314.6 C1214.1 1316.0 1225.7 1315.3 1231.2 1316.1 C1234.5 1316.6 1236.3 1317.8 1239.1 1318.0 C1242.1 1318.2 1245.7 1317.8 1248.4 1316.9 C1250.8 1316.1 1252.6 1314.6 1254.7 1313.4 C1256.8 1312.2 1258.8 1310.9 1260.9 1309.5 C1263.0 1308.1 1265.2 1305.8 1267.2 1305.2 C1268.8 1304.8 1270.4 1305.1 1271.9 1305.5 C1273.3 1305.9 1274.6 1306.5 1275.8 1307.5 C1277.2 1308.7 1278.1 1312.2 1279.7 1312.6 C1281.4 1313.0 1283.8 1310.1 1285.9 1309.5 C1287.7 1308.9 1289.5 1308.5 1291.4 1308.7 C1293.5 1309.0 1295.6 1310.4 1297.7 1311.4 C1299.8 1312.4 1301.9 1313.4 1303.9 1314.9 C1306.3 1316.7 1308.7 1319.7 1310.9 1321.6 C1312.8 1323.2 1314.3 1325.2 1316.4 1325.9 C1318.5 1326.6 1321.3 1326.3 1323.4 1325.5 C1325.5 1324.7 1327.5 1323.0 1328.9 1320.8 C1330.7 1318.0 1331.1 1313.0 1332.0 1309.1 C1332.9 1305.2 1333.5 1300.8 1334.4 1297.3 C1335.1 1294.4 1335.9 1292.2 1336.7 1289.5 C1337.5 1286.5 1338.3 1283.2 1339.1 1280.2 C1339.9 1277.5 1340.8 1274.6 1341.4 1272.3 C1341.9 1270.6 1342.2 1270.0 1342.6 1267.9 C1343.6 1262.5 1344.7 1249.1 1345.5 1238.6 C1346.4 1226.5 1346.8 1213.0 1347.5 1199.5 C1348.2 1185.1 1348.8 1171.8 1349.6 1154.9 C1350.7 1132.4 1352.4 1101.5 1353.5 1076.6 C1354.5 1053.9 1355.2 1031.9 1356.1 1011.4 C1356.9 993.0 1357.0 973.1 1358.7 959.2 C1359.9 949.9 1361.9 936.0 1363.4 936.0 C1364.9 936.0 1366.6 949.5 1367.8 959.2 C1369.8 975.4 1370.4 1003.9 1371.8 1024.4 C1373.0 1042.8 1374.6 1058.2 1375.7 1076.6 C1376.9 1097.1 1376.7 1125.1 1378.3 1141.9 C1379.3 1152.6 1381.0 1158.4 1382.2 1168.0 C1383.7 1179.7 1384.8 1194.1 1386.1 1207.1 C1387.4 1220.2 1388.4 1233.5 1390.0 1246.3 C1391.5 1258.7 1393.8 1282.8 1395.3 1282.8 C1397.0 1282.7 1398.2 1251.6 1399.2 1233.2 C1400.5 1210.1 1401.0 1181.0 1401.8 1154.9 C1402.6 1128.8 1403.1 1098.2 1403.9 1076.6 C1404.5 1061.3 1403.1 1045.8 1405.7 1037.5 C1407.1 1033.1 1409.9 1027.9 1411.4 1028.3 C1414.5 1029.1 1413.6 1060.2 1414.8 1076.6 C1416.0 1093.7 1417.6 1111.4 1418.7 1128.8 C1419.8 1146.2 1420.4 1162.6 1421.4 1181.0 C1422.5 1201.6 1423.3 1228.5 1425.3 1246.3 C1426.7 1258.7 1427.9 1277.2 1430.5 1277.6 C1432.3 1277.9 1435.3 1270.7 1437.0 1264.6 C1440.3 1252.4 1439.8 1227.8 1440.9 1207.1 C1442.2 1183.0 1443.2 1153.7 1444.1 1128.8 C1444.9 1106.1 1444.9 1076.5 1446.2 1063.6 C1446.8 1058.1 1447.6 1051.8 1448.2 1051.8 C1449.5 1051.9 1450.5 1083.9 1451.4 1102.7 C1452.5 1126.0 1452.7 1157.5 1454.0 1181.0 C1455.0 1200.2 1456.2 1217.1 1457.9 1233.2 C1459.4 1247.2 1461.6 1272.4 1463.1 1272.4 C1464.6 1272.4 1465.8 1247.2 1467.0 1233.2 C1468.4 1217.1 1469.5 1196.5 1471.0 1181.0 C1472.2 1168.5 1473.3 1155.7 1474.9 1147.1 C1475.9 1141.7 1477.2 1134.0 1478.3 1134.0 C1479.7 1134.0 1481.5 1145.9 1482.7 1154.9 C1484.8 1170.6 1485.2 1220.2 1486.6 1220.2 C1487.8 1220.2 1489.6 1187.8 1490.5 1168.0 C1491.7 1141.8 1490.9 1102.0 1491.8 1076.6 C1492.4 1058.3 1492.7 1037.4 1494.4 1029.6 C1495.0 1026.9 1495.9 1024.3 1496.5 1024.4 C1498.4 1024.7 1498.5 1059.2 1499.7 1076.6 C1500.9 1094.0 1502.3 1111.4 1503.6 1128.8 C1504.9 1146.2 1506.0 1163.6 1507.5 1181.0 C1509.0 1198.4 1510.9 1218.8 1512.7 1233.2 C1514.0 1243.4 1514.9 1251.3 1516.6 1259.3 C1518.1 1266.3 1520.0 1278.8 1521.9 1278.9 C1523.9 1279.0 1526.7 1268.6 1528.3 1259.3 C1531.8 1238.4 1529.5 1181.3 1530.4 1154.9 C1530.9 1138.7 1531.0 1125.9 1532.2 1115.8 C1533.0 1109.4 1534.4 1100.0 1535.3 1100.1 C1536.9 1100.2 1537.5 1139.8 1538.7 1154.9 C1539.5 1165.6 1539.9 1182.2 1541.3 1182.3 C1542.3 1182.4 1544.2 1174.0 1545.2 1168.0 C1546.8 1158.2 1547.0 1142.8 1547.8 1128.8 C1548.8 1112.6 1549.6 1094.0 1550.5 1076.6 C1551.4 1059.2 1551.7 1037.3 1553.1 1024.4 C1553.9 1016.7 1555.2 1006.1 1556.2 1006.1 C1557.5 1006.1 1558.5 1026.2 1559.6 1037.5 C1560.9 1050.7 1562.4 1080.5 1563.5 1080.5 C1564.6 1080.5 1565.3 1052.5 1566.1 1037.5 C1567.0 1020.9 1567.2 1001.3 1568.7 985.3 C1570.0 971.6 1572.3 947.4 1574.0 947.4 C1575.4 947.4 1576.8 962.4 1577.9 972.2 C1579.5 986.4 1580.3 1009.2 1581.8 1024.4 C1583.0 1036.2 1584.5 1055.7 1585.7 1055.7 C1587.1 1055.7 1588.6 1025.7 1589.6 1011.4 C1590.5 997.9 1590.2 982.8 1591.4 972.2 C1592.2 964.9 1593.6 953.9 1594.8 953.9 C1596.4 953.9 1598.5 974.2 1600.0 985.3 C1601.6 997.6 1602.9 1010.4 1604.0 1024.4 C1605.2 1040.5 1605.7 1059.2 1606.6 1076.6 C1607.5 1094.0 1607.9 1112.3 1609.2 1128.8 C1610.4 1143.9 1612.5 1171.9 1613.9 1171.9 C1615.1 1171.9 1615.9 1152.7 1617.0 1141.9 C1618.3 1129.1 1619.8 1100.1 1621.0 1100.1 C1622.4 1100.1 1623.6 1138.2 1624.9 1154.9 C1626.0 1169.1 1627.0 1182.4 1628.0 1194.1 C1628.9 1203.7 1629.7 1220.2 1630.6 1220.2 C1631.7 1220.2 1633.0 1196.3 1634.0 1181.0 C1635.4 1159.4 1636.1 1126.9 1637.4 1102.7 C1638.6 1081.7 1640.0 1044.0 1641.3 1044.0 C1642.3 1044.0 1643.5 1063.9 1644.4 1076.6 C1645.6 1094.6 1645.5 1125.9 1647.0 1141.9 C1647.9 1151.2 1649.3 1164.0 1650.2 1164.0 C1651.6 1163.9 1652.3 1132.1 1653.6 1115.8 C1655.0 1099.1 1656.4 1065.0 1658.3 1064.9 C1659.6 1064.8 1661.3 1089.7 1662.7 1089.7 C1664.5 1089.7 1666.4 1051.8 1667.9 1051.8 C1669.6 1051.9 1670.3 1085.6 1671.8 1102.7 C1673.3 1120.0 1675.3 1136.0 1677.0 1154.9 C1679.0 1177.5 1681.0 1229.3 1682.8 1229.3 C1684.5 1229.3 1686.3 1187.4 1687.5 1168.0 C1688.6 1150.6 1686.6 1119.7 1690.1 1118.4 C1691.4 1117.9 1693.9 1124.1 1695.3 1123.6 C1699.3 1122.2 1699.1 1067.5 1700.6 1067.5 C1702.2 1067.5 1703.0 1110.4 1704.5 1128.8 C1705.7 1144.0 1706.8 1158.5 1708.4 1170.2 C1709.6 1178.8 1710.9 1185.6 1712.4 1192.6 C1713.8 1198.9 1714.7 1205.1 1716.9 1210.5 C1718.9 1215.4 1721.9 1223.6 1724.7 1223.9 C1727.1 1224.1 1730.5 1218.8 1732.5 1215.0 C1735.0 1210.3 1735.4 1202.8 1737.0 1197.0 C1738.5 1191.6 1739.8 1184.9 1741.5 1181.4 C1742.5 1179.3 1743.9 1179.4 1744.8 1176.9 C1747.5 1169.2 1745.3 1135.4 1747.1 1125.4 C1747.9 1121.1 1749.2 1116.4 1750.0 1116.5 C1751.5 1116.7 1751.9 1137.6 1752.7 1147.8 C1753.5 1157.7 1754.2 1176.9 1754.9 1176.9 C1755.6 1176.9 1756.4 1159.1 1757.1 1147.8 C1758.0 1132.2 1758.2 1107.7 1759.4 1091.9 C1760.3 1080.3 1761.7 1061.7 1762.7 1061.7 C1763.7 1061.7 1764.9 1081.1 1765.6 1091.9 C1766.4 1104.4 1765.5 1122.0 1767.2 1132.2 C1768.2 1138.7 1770.6 1141.5 1771.7 1147.8 C1773.3 1156.8 1772.9 1171.2 1773.9 1181.4 C1774.7 1189.9 1775.9 1204.9 1776.8 1204.9 C1777.7 1204.9 1778.9 1190.5 1779.5 1181.4 C1780.4 1168.9 1779.5 1146.5 1780.6 1136.6 C1781.2 1131.6 1782.2 1125.4 1782.9 1125.4 C1784.1 1125.5 1785.1 1147.0 1785.8 1159.0 C1786.6 1172.9 1786.4 1190.0 1787.3 1203.8 C1788.1 1215.8 1789.5 1227.3 1790.7 1237.3 C1791.7 1245.5 1792.6 1252.2 1794.0 1259.7 C1795.5 1267.5 1797.9 1283.2 1799.6 1283.2 C1800.8 1283.2 1802.2 1276.3 1803.0 1270.9 C1804.6 1260.7 1803.7 1238.4 1804.6 1226.1 C1805.2 1217.4 1806.2 1203.8 1807.0 1203.8 C1807.9 1203.8 1808.9 1217.4 1809.7 1226.1 C1810.8 1238.4 1811.2 1257.6 1812.0 1270.9 C1812.7 1281.6 1813.0 1290.5 1814.2 1300.0 C1815.3 1309.1 1816.6 1321.7 1818.7 1326.8 C1819.7 1329.1 1821.1 1331.6 1822.0 1331.3 C1824.3 1330.6 1823.7 1306.5 1824.3 1293.3 C1825.0 1279.0 1824.9 1248.6 1826.0 1248.5 C1826.8 1248.5 1827.5 1266.4 1829.2 1270.9 C1830.0 1273.1 1831.3 1275.6 1832.1 1275.4 C1835.0 1274.6 1833.7 1227.3 1834.3 1203.8 C1834.8 1181.0 1835.0 1160.6 1835.4 1136.6 C1835.8 1108.9 1836.3 1071.4 1836.6 1047.1 C1836.8 1030.5 1836.7 1005.0 1837.2 1005.0 C1837.8 1005.0 1839.6 1046.2 1840.4 1069.5 C1841.4 1096.9 1841.5 1131.3 1842.2 1159.0 C1842.8 1183.0 1843.2 1207.6 1844.4 1226.1 C1845.3 1239.2 1846.4 1251.1 1847.8 1259.7 C1848.7 1265.2 1849.7 1273.1 1850.7 1273.1 C1852.2 1273.0 1853.9 1239.6 1855.1 1239.6 C1856.3 1239.6 1856.6 1261.6 1857.8 1270.9 C1858.8 1278.4 1859.0 1286.3 1861.2 1291.0 C1862.6 1294.1 1864.8 1297.5 1866.8 1297.7 C1868.7 1297.9 1870.9 1294.4 1872.9 1293.0 C1874.8 1291.7 1877.0 1289.0 1878.6 1289.4 C1880.4 1289.9 1881.0 1295.9 1882.9 1297.2 C1884.5 1298.3 1887.3 1299.0 1888.6 1298.0 C1890.7 1296.5 1890.2 1290.0 1890.7 1284.4 C1891.5 1275.3 1891.2 1262.3 1891.5 1248.6 C1891.9 1230.3 1891.9 1201.4 1892.6 1184.3 C1893.0 1172.9 1893.4 1162.3 1894.3 1155.7 C1894.8 1152.1 1895.5 1147.5 1896.0 1147.5 C1897.0 1147.6 1898.0 1166.4 1898.6 1177.2 C1899.4 1190.2 1899.5 1206.4 1900.0 1220.0 C1900.5 1232.5 1900.0 1247.4 1901.5 1255.8 C1902.3 1260.5 1903.5 1266.1 1905.0 1266.5 C1906.0 1266.8 1907.7 1264.9 1908.6 1263.0 C1910.4 1259.0 1908.9 1247.0 1909.7 1241.5 C1910.2 1238.0 1911.0 1232.9 1911.7 1232.9 C1912.6 1232.9 1913.6 1242.6 1914.3 1248.6 C1915.3 1256.7 1915.2 1269.3 1916.5 1277.2 C1917.4 1282.8 1918.7 1286.9 1920.0 1291.5 C1921.3 1295.9 1922.6 1300.9 1924.3 1304.4 C1925.6 1307.0 1927.2 1310.8 1928.6 1310.8 C1929.8 1310.8 1931.1 1307.8 1932.2 1305.8 C1933.6 1303.1 1934.7 1295.8 1935.8 1295.8 C1936.9 1295.8 1937.9 1302.3 1938.6 1305.8 C1939.3 1309.5 1938.9 1314.5 1940.0 1317.3 C1940.7 1319.2 1942.1 1321.7 1942.9 1321.5 C1944.3 1321.2 1944.9 1311.5 1945.8 1305.8 C1946.8 1299.2 1947.7 1292.1 1948.6 1284.4 C1949.6 1275.6 1950.6 1264.1 1951.5 1255.8 C1952.2 1249.3 1952.1 1242.3 1953.6 1238.6 C1954.4 1236.6 1956.0 1234.2 1956.9 1234.4 C1958.3 1234.8 1958.7 1243.4 1959.3 1248.6 C1960.1 1255.0 1960.2 1262.9 1960.8 1270.1 C1961.4 1277.2 1961.9 1285.1 1962.9 1291.5 C1963.7 1296.8 1964.0 1302.4 1965.8 1305.8 C1967.1 1308.1 1969.5 1311.1 1970.8 1310.8 C1972.6 1310.3 1973.6 1303.2 1974.4 1298.7 C1975.4 1293.2 1974.6 1283.8 1975.8 1280.1 C1976.3 1278.3 1977.2 1276.4 1977.9 1276.5 C1978.9 1276.6 1980.0 1281.1 1980.8 1284.4 C1982.0 1289.7 1981.9 1299.8 1982.9 1305.8 C1983.7 1310.3 1984.2 1315.1 1985.8 1317.3 C1986.8 1318.6 1988.5 1319.8 1989.4 1319.4 C1990.6 1318.9 1990.0 1313.7 1991.5 1312.3 C1992.9 1311.0 1995.8 1311.4 1998.0 1311.0"/>
</g>
<g stroke="#000" stroke-width="7.5" stroke-linecap="round">
<line x1="174.0" y1="1371" x2="174.0" y2="1394.5"/>
<line x1="302.4" y1="1371" x2="302.4" y2="1381.5"/>
<line x1="430.7" y1="1371" x2="430.7" y2="1394.5"/>
<line x1="559.1" y1="1371" x2="559.1" y2="1381.5"/>
<line x1="687.4" y1="1371" x2="687.4" y2="1394.5"/>
<line x1="815.8" y1="1371" x2="815.8" y2="1381.5"/>
<line x1="944.1" y1="1371" x2="944.1" y2="1394.5"/>
<line x1="1072.5" y1="1371" x2="1072.5" y2="1381.5"/>
<line x1="1200.9" y1="1371" x2="1200.9" y2="1394.5"/>
<line x1="1329.2" y1="1371" x2="1329.2" y2="1381.5"/>
<line x1="1457.6" y1="1371" x2="1457.6" y2="1394.5"/>
<line x1="1585.9" y1="1371" x2="1585.9" y2="1381.5"/>
<line x1="1714.3" y1="1371" x2="1714.3" y2="1394.5"/>
<line x1="1842.6" y1="1371" x2="1842.6" y2="1381.5"/>
<line x1="1971.0" y1="1371" x2="1971.0" y2="1394.5"/>
</g>
<g font-size="64" fill="#000">
<text x="174.0" y="1458" text-anchor="middle" transform="translate(174.0 0) scale(0.938 1) translate(-174.0 0)">4000</text>
<text x="430.7" y="1458" text-anchor="middle" transform="translate(430.7 0) scale(0.938 1) translate(-430.7 0)">3500</text>
<text x="687.4" y="1458" text-anchor="middle" transform="translate(687.4 0) scale(0.938 1) translate(-687.4 0)">3000</text>
<text x="944.1" y="1458" text-anchor="middle" transform="translate(944.1 0) scale(0.938 1) translate(-944.1 0)">2500</text>
<text x="1200.9" y="1458" text-anchor="middle" transform="translate(1200.9 0) scale(0.938 1) translate(-1200.9 0)">2000</text>
<text x="1457.6" y="1458" text-anchor="middle" transform="translate(1457.6 0) scale(0.938 1) translate(-1457.6 0)">1500</text>
<text x="1714.3" y="1458" text-anchor="middle" transform="translate(1714.3 0) scale(0.938 1) translate(-1714.3 0)">1000</text>
<text x="1971.0" y="1458" text-anchor="middle" transform="translate(1971.0 0) scale(0.938 1) translate(-1971.0 0)">500</text>
</g>
<text x="213.8" y="165" font-size="63.5" fill="#0000ff" transform="translate(213.8 0) scale(0.935 1) translate(-213.8 0)">PEV after SSP</text>
<text x="207" y="582.7" font-size="64.5" fill="#ff0000" transform="translate(207 0) scale(0.919 1) translate(-207 0)">PEV before SSP</text>
<text x="220" y="1043" font-size="64.5" fill="#000" transform="translate(220 0) scale(0.934 1) translate(-220 0)">Monomer</text>
<text x="752" y="1576" font-size="77" fill="#000" transform="translate(752 0) scale(0.937 1) translate(-752 0)">Wavenumber (cm</text>
<text x="1352" y="1542" font-size="58" fill="#000" transform="translate(1352 0) scale(0.937 1) translate(-1352 0)">-1</text>
<text x="1401" y="1576" font-size="74" fill="#000" transform="translate(1401 0) scale(0.87 1) translate(-1401 0)">)</text>
<text transform="translate(75.8 963) rotate(-90) scale(0.963 1)" x="0" y="0" font-size="78" fill="#000">Absorbance</text>
</svg>
</body></html>
